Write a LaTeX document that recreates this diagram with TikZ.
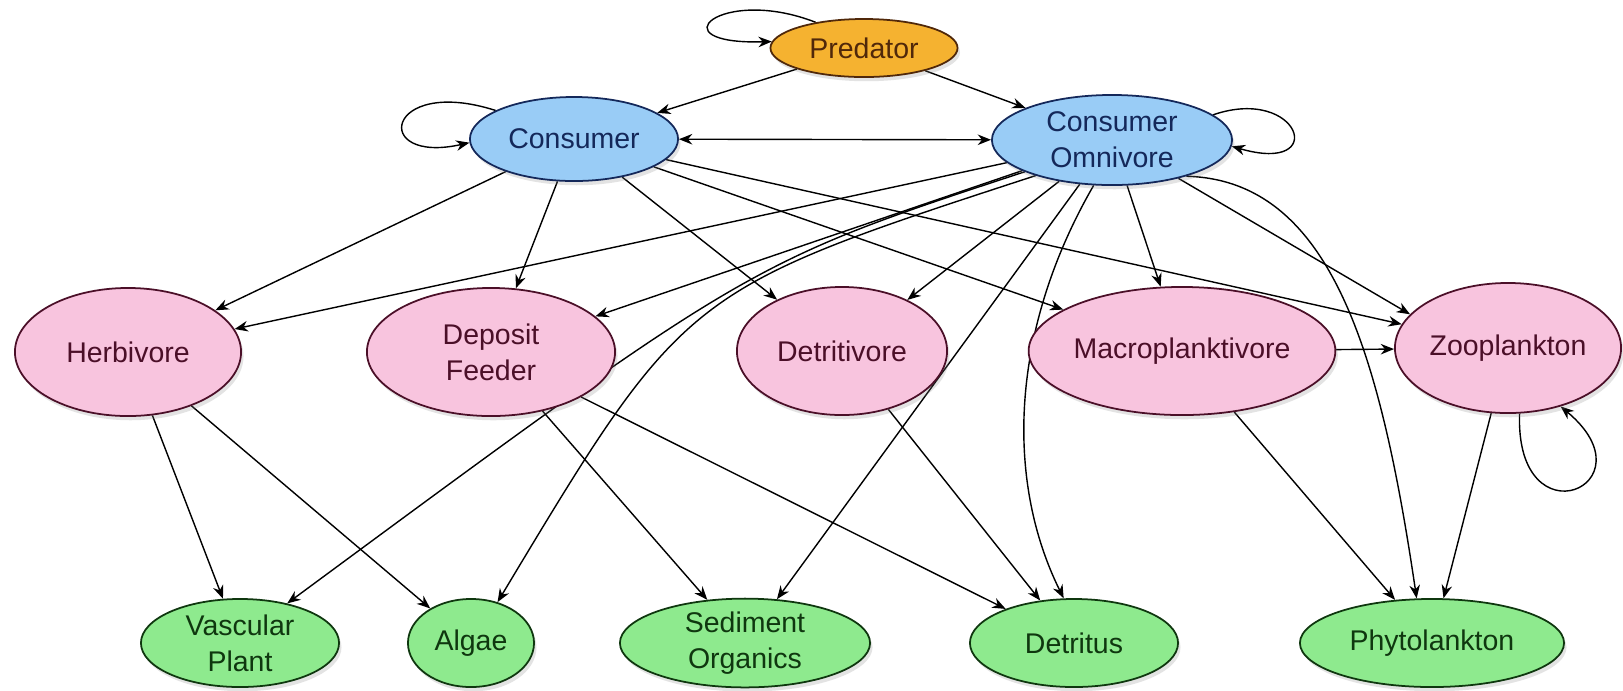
\documentclass[tikz,border=0pt]{standalone}
\usepackage{fontspec}
\setmainfont{Liberation Sans}
\usetikzlibrary{shapes.geometric,arrows.meta,shadows}
\definecolor{orangeF}{RGB}{245,178,48}
\definecolor{orangeD}{RGB}{80,40,10}
\definecolor{blueF}{RGB}{153,204,246}
\definecolor{blueD}{RGB}{20,40,90}
\definecolor{pinkF}{RGB}{248,196,222}
\definecolor{pinkD}{RGB}{75,15,40}
\definecolor{greenF}{RGB}{142,234,142}
\definecolor{greenD}{RGB}{15,55,15}
\pgfdeclarelayer{paper}
\pgfdeclarelayer{edges}
\pgfsetlayers{paper,edges,main}
\begin{document}
\begin{tikzpicture}[x=0.01cm,y=-0.01cm,
  >={Stealth[length=3.8pt,width=3pt]},
  base/.style={ellipse, draw, line width=0.5pt, inner sep=0pt, align=center,
    font=\fontsize{8.1}{10.3}\selectfont,
    drop shadow={shadow xshift=0.7pt, shadow yshift=-1.2pt, opacity=0.22}},
  predbox/.style={base, fill=orangeF, draw=orangeD, text=orangeD},
  bluebox/.style={base, fill=blueF, draw=blueD, text=blueD},
  pinkbox/.style={base, fill=pinkF, draw=pinkD, text=pinkD},
  greenbox/.style={base, fill=greenF, draw=greenD, text=greenD},
  link/.style={->, line width=0.4pt, black},
  dlink/.style={<->, line width=0.4pt, black}]
\begin{pgfonlayer}{paper}
\fill[white] (0,0) rectangle (1623,690);
\end{pgfonlayer}
\useasboundingbox (0,0) rectangle (1623,690);

% nodes
\node[predbox, minimum width=1.87cm, minimum height=0.58cm] (pred) at (864,48) {Predator};
\node[bluebox, minimum width=2.08cm, minimum height=0.84cm] (cons) at (574,139) {Consumer};
\node[bluebox, minimum width=2.40cm, minimum height=0.90cm] (omni) at (1112,140) {Consumer\\Omnivore};
\node[pinkbox, minimum width=2.26cm, minimum height=1.28cm] (herb) at (128,352) {Herbivore};
\node[pinkbox, minimum width=2.48cm, minimum height=1.28cm] (depo) at (491,352) {Deposit\\Feeder};
\node[pinkbox, minimum width=2.10cm, minimum height=1.28cm] (detv) at (842,351) {Detritivore};
\node[pinkbox, minimum width=3.00cm, minimum height=1.28cm] (macro) at (1182,351) {Macroplanktivore};
\node[pinkbox, minimum width=2.26cm, minimum height=1.30cm] (zoo) at (1508,348) {Zooplankton};
\node[greenbox, minimum width=1.98cm, minimum height=0.88cm] (vasc) at (240,643) {Vascular\\Plant};
\node[greenbox, minimum width=1.26cm, minimum height=0.88cm] (alg) at (471,643) {Algae};
\node[greenbox, minimum width=2.50cm, minimum height=0.88cm] (sedi) at (745,643) {Sediment\\Organics};
\node[greenbox, minimum width=2.08cm, minimum height=0.88cm] (detr) at (1074,643) {Detritus};
\node[greenbox, minimum width=2.64cm, minimum height=0.88cm] (phyto) at (1432,643) {Phytolankton};

\begin{pgfonlayer}{edges}
% self loops
\draw[link] (pred.152) .. controls (720,-15) and (655,45) .. (pred.176);
\draw[link] (cons.160) .. controls (385,75) and (370,165) .. (cons.182);
\draw[link] (omni.14) .. controls (1300,85) and (1330,175) .. (omni.-3);
\draw[link] (zoo.-80) .. controls (1515,545) and (1655,485) .. (zoo.-48);
% top
\draw[link] (pred) -- (cons);
\draw[link] (pred) -- (omni);
\draw[dlink] (cons) -- (omni);
% consumer
\draw[link] (cons) -- (herb);
\draw[link] (cons) -- (depo);
\draw[link] (cons) -- (detv);
\draw[link] (cons) -- (macro);
\draw[link] (cons) -- (zoo);
% omnivore
\draw[link] (omni) -- (herb);
\draw[link] (omni) -- (depo);
\draw[link] (omni.-160) .. controls (750,262) and (750,262) .. (vasc.40);
\draw[link] (omni.-155) .. controls (685,290) and (685,290) .. (alg.57);
\draw[link] (omni) -- (detv);
\draw[link] (omni) -- (sedi);
\draw[link] (omni.-112) .. controls (1010,330) and (1005,480) .. (detr.103);
\draw[link] (omni) -- (macro);
\draw[link] (omni.-30) -- (zoo.161);
\draw[link] (omni.-26) .. controls (1330,180) and (1380,350) .. (phyto.109);
% middle row
\draw[link] (macro) -- (zoo);
\draw[link] (macro) -- (phyto);
\draw[link] (zoo) -- (phyto);
\draw[link] (herb) -- (vasc);
\draw[link] (herb) -- (alg);
\draw[link] (depo) -- (sedi);
\draw[link] (depo) -- (detr);
\draw[link] (detv) -- (detr);
\end{pgfonlayer}
\end{tikzpicture}
\end{document}
